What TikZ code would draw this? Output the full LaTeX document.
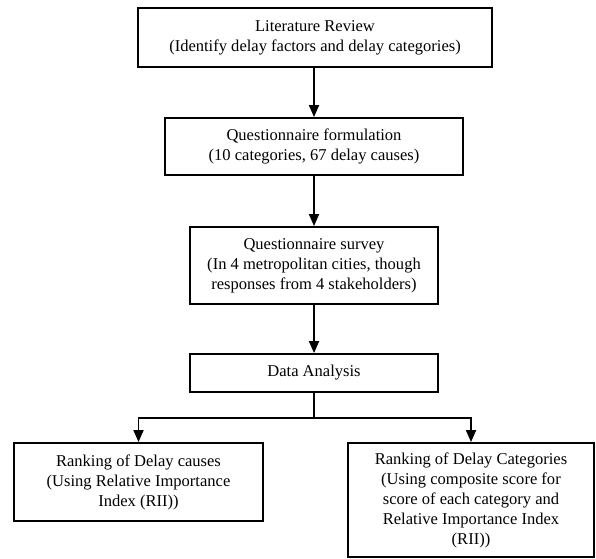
\documentclass[tikz,border=0pt]{standalone}
\usepackage{fontspec}
\setmainfont{Liberation Serif}
\usetikzlibrary{arrows.meta}
\begin{document}
\begin{tikzpicture}[x=0.75pt,y=-0.75pt,
  box/.style={draw=black,line width=1.4pt,align=center,inner sep=0pt,
    font=\fontsize{12.4pt}{15pt}\selectfont},
  arr/.style={line width=1.4pt,-{Triangle[length=9pt,width=7.5pt]}},
  ln/.style={line width=1.4pt}]
\useasboundingbox (0,0) rectangle (596,559);
\node[box,minimum width=354*0.75pt,minimum height=59*0.75pt] (lit) at (315,37.5)
  {Literature Review\\(Identify delay factors and delay categories)};
\node[box,minimum width=298*0.75pt,minimum height=57*0.75pt] (qf) at (314,146.5)
  {Questionnaire formulation\\(10 categories, 67 delay causes)};
\node[box,minimum width=248*0.75pt,minimum height=77*0.75pt] (qs) at (314,265.5)
  {Questionnaire survey\\(In 4 metropolitan cities, though\\responses from 4 stakeholders)};
\node[box,minimum width=248*0.75pt,minimum height=38*0.75pt] (da) at (314,373)
  {Data Analysis};
\node[box,minimum width=249*0.75pt,minimum height=78*0.75pt] (rc) at (138.5,482)
  {Ranking of Delay causes\\(Using Relative Importance\\Index (RII))};
\node[box,minimum width=246*0.75pt,minimum height=114*0.75pt] (rk) at (471,500)
  {Ranking of Delay Categories\\(Using composite score for\\score of each category and\\Relative Importance Index\\(RII))};
\coordinate (j) at (314,418);
\draw[arr] (lit.south -| qf.north) -- (qf.north);
\draw[arr] (qf) -- (qs);
\draw[arr] (qs) -- (da);
\draw[ln] (da.south) -- (j);
\draw[arr] (j) -| (rc.north);
\draw[arr] (j) -| (rk.north);
\end{tikzpicture}
\end{document}
